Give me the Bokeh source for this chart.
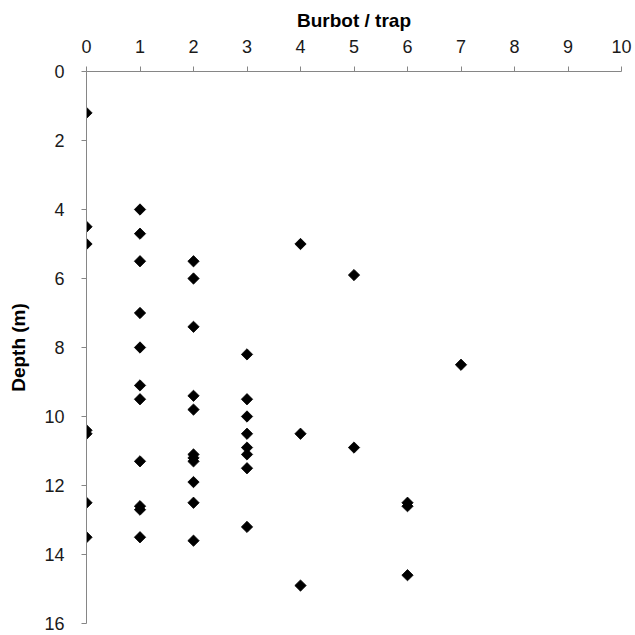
from bokeh.plotting import figure
from bokeh.models import Range1d, FixedTicker
from bokeh.embed import file_html
from bokeh.resources import INLINE
import math

# Data: burbot per trap vs depth (m)
burbot = [0, 0, 0, 0, 0, 0, 0,
          1, 1, 1, 1, 1, 1, 1, 1, 1, 1, 1,
          2, 2, 2, 2, 2, 2, 2, 2, 2, 2, 2,
          3, 3, 3, 3, 3, 3, 3, 3,
          4, 4, 4,
          5, 5,
          6, 6, 6,
          7]
depth = [1.2, 4.5, 5.0, 10.4, 10.5, 12.5, 13.5,
         4.0, 4.7, 5.5, 7.0, 8.0, 9.1, 9.5, 11.3, 12.6, 12.7, 13.5,
         5.5, 6.0, 7.4, 9.4, 9.8, 11.1, 11.2, 11.3, 11.9, 12.5, 13.6,
         8.2, 9.5, 10.0, 10.5, 10.9, 11.1, 11.5, 13.2,
         5.0, 10.5, 14.9,
         5.9, 10.9,
         12.5, 12.6, 14.6,
         8.5]
x_ticks = [0, 1, 2, 3, 4, 5, 6, 7, 8, 9, 10]
y_ticks = [0, 2, 4, 6, 8, 10, 12, 14, 16]

p = figure(width=634, height=634, output_backend="svg", toolbar_location=None,
           x_axis_location="above", x_range=Range1d(0, 10), y_range=Range1d(16, 0),
           min_border_left=86, min_border_right=13, min_border_top=71, min_border_bottom=11)

p.scatter(burbot, depth, marker="square", size=8, angle=math.pi / 4,
          fill_color="black", line_color="black", line_width=0.8)

p.grid.visible = False
p.outline_line_color = None
p.background_fill_color = "white"
p.border_fill_color = "white"

for ax, ticks in ((p.xaxis[0], x_ticks), (p.yaxis[0], y_ticks)):
    ax.ticker = FixedTicker(ticks=ticks)
    ax.axis_line_color = "#868686"
    ax.major_tick_line_color = "#868686"
    ax.minor_tick_line_color = None
    ax.major_tick_out = 5
    ax.major_tick_in = 0
    ax.major_label_text_font = "Liberation Sans"
    ax.major_label_text_font_size = "18px"
    ax.major_label_text_color = "#1a1a1a"
    ax.axis_label_text_font = "Liberation Sans"
    ax.axis_label_text_font_size = "19px"
    ax.axis_label_text_font_style = "bold"
    ax.axis_label_text_color = "#000000"

p.xaxis[0].axis_label = "Burbot / trap"
p.xaxis[0].major_label_standoff = 14
p.xaxis[0].axis_label_standoff = 6
p.yaxis[0].axis_label = "Depth (m)"
p.yaxis[0].major_label_standoff = 17
p.yaxis[0].axis_label_standoff = 12

open("out.html", "w").write(file_html(p, INLINE))
